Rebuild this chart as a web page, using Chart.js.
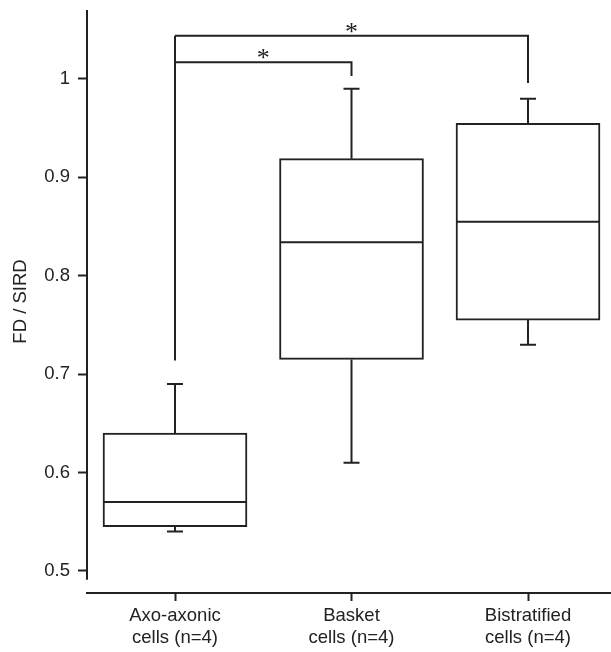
<!DOCTYPE html>
<html>
<head>
<meta charset="utf-8">
<style>
  html, body { margin: 0; padding: 0; background: #fff; }
  canvas { display: block; }
</style>
<script src="https://cdn.jsdelivr.net/npm/chart.js@4/dist/chart.umd.min.js"></script>
</head>
<body>
<canvas id="chart" width="611" height="652"></canvas>
<script>
// ============================================
// DATA
// ============================================

const categories = [['Axo-axonic', 'cells (n=4)'], ['Basket', 'cells (n=4)'], ['Bistratified', 'cells (n=4)']];
const whiskerLow = [0.54, 0.61, 0.73];
const boxQ1 = [0.545, 0.715, 0.755];
const boxMedian = [0.57, 0.834, 0.855];
const boxQ3 = [0.64, 0.919, 0.955];
const whiskerHigh = [0.69, 0.99, 0.98];
const yTicks = [0.5, 0.6, 0.7, 0.8, 0.9, 1.0];

// significance brackets: from group 1 to group bracketTo[i]
const bracketTo = [2, 3];
const bracketLevel = [1.017, 1.044];
const bracketDrop = [1.003, 0.996];
const bracketStartDrop = 0.714;

const INK = '#222';
const FONT = "'Liberation Sans', Arial, sans-serif";

// ============================================
// BOX PLOT EXTRAS (whiskers, medians, brackets)
// ============================================

const boxPlugin = {
    id: 'boxExtras',
    afterDatasetsDraw(chart) {
        const ctx = chart.ctx;
        const x = chart.scales.x;
        const y = chart.scales.y;
        const halfBox = 71;
        const halfCap = 8;

        ctx.save();
        ctx.strokeStyle = INK;
        ctx.lineWidth = 2;
        ctx.lineCap = 'butt';

        categories.forEach((c, i) => {
            const cx = x.getPixelForValue(i + 1);
            ctx.beginPath();
            // median
            ctx.moveTo(cx - halfBox, y.getPixelForValue(boxMedian[i]));
            ctx.lineTo(cx + halfBox, y.getPixelForValue(boxMedian[i]));
            // upper whisker
            ctx.moveTo(cx, y.getPixelForValue(boxQ3[i]));
            ctx.lineTo(cx, y.getPixelForValue(whiskerHigh[i]));
            ctx.moveTo(cx - halfCap, y.getPixelForValue(whiskerHigh[i]));
            ctx.lineTo(cx + halfCap, y.getPixelForValue(whiskerHigh[i]));
            // lower whisker
            ctx.moveTo(cx, y.getPixelForValue(boxQ1[i]));
            ctx.lineTo(cx, y.getPixelForValue(whiskerLow[i]));
            ctx.moveTo(cx - halfCap, y.getPixelForValue(whiskerLow[i]));
            ctx.lineTo(cx + halfCap, y.getPixelForValue(whiskerLow[i]));
            ctx.stroke();
        });

        // brackets
        const x0 = x.getPixelForValue(1);
        ctx.beginPath();
        ctx.moveTo(x0, y.getPixelForValue(Math.max(...bracketLevel)));
        ctx.lineTo(x0, y.getPixelForValue(bracketStartDrop));
        bracketTo.forEach((g, i) => {
            const x1 = x.getPixelForValue(g);
            const yl = y.getPixelForValue(bracketLevel[i]);
            ctx.moveTo(x0, yl);
            ctx.lineTo(x1, yl);
            ctx.lineTo(x1, y.getPixelForValue(bracketDrop[i]));
        });
        ctx.stroke();

        // stars
        ctx.fillStyle = INK;
        ctx.font = "26px 'Liberation Serif', serif";
        ctx.textAlign = 'center';
        ctx.textBaseline = 'alphabetic';
        bracketTo.forEach((g, i) => {
            const mx = (x0 + x.getPixelForValue(g)) / 2;
            ctx.fillText('*', mx, y.getPixelForValue(bracketLevel[i]) + 4);
        });

        // y axis line (stops short of the x axis)
        ctx.beginPath();
        ctx.moveTo(chart.chartArea.left, chart.chartArea.top);
        ctx.lineTo(chart.chartArea.left, y.getPixelForValue(0.491));
        ctx.stroke();
        ctx.restore();
    }
};

// ============================================
// CHART
// ============================================

const ctx = document.getElementById('chart').getContext('2d');

new Chart(ctx, {
    type: 'bar',
    data: {
        datasets: [{
            data: categories.map((c, i) => ({ x: i + 1, y: [boxQ1[i], boxQ3[i]] })),
            backgroundColor: '#fff',
            borderColor: INK,
            borderWidth: 2,
            borderSkipped: false,
            barThickness: 144
        }]
    },
    options: {
        responsive: false,
        animation: false,
        layout: { padding: { top: 10, right: 0, left: 0, bottom: 0 } },
        plugins: {
            legend: { display: false },
            tooltip: { enabled: false }
        },
        scales: {
            x: {
                type: 'linear',
                offset: false,
                min: 0.5014,
                max: 3.4702,
                afterBuildTicks(scale) {
                    scale.ticks = [1, 2, 3].map(v => ({ value: v }));
                },
                afterFit(scale) {
                    scale.height = 59;
                    scale.paddingLeft = 0;
                    scale.paddingRight = 0;
                },
                border: { display: true, color: INK, width: 2 },
                grid: {
                    offset: false,
                    drawOnChartArea: false,
                    drawTicks: true,
                    tickLength: 8,
                    tickWidth: 2,
                    tickColor: INK
                },
                ticks: {
                    color: INK,
                    padding: 4,
                    maxRotation: 0,
                    autoSkip: false,
                    font: { family: FONT, size: 18.5, lineHeight: 1.2 },
                    callback: (v) => categories[v - 1]
                }
            },
            y: {
                min: 0.4776,
                max: 1.0701,
                afterBuildTicks(scale) {
                    scale.ticks = yTicks.map(v => ({ value: v }));
                },
                afterFit(scale) {
                    scale.width = 87;
                    scale.paddingTop = 0;
                    scale.paddingBottom = 0;
                },
                border: { display: false },
                grid: {
                    drawOnChartArea: false,
                    drawTicks: true,
                    tickLength: 9,
                    tickWidth: 2,
                    tickColor: INK
                },
                ticks: {
                    color: INK,
                    padding: 8,
                    font: { family: FONT, size: 18.5 },
                    callback: (v) => (v === 1 ? '1' : v.toFixed(1))
                },
                title: {
                    display: true,
                    text: 'FD / SIRD',
                    color: INK,
                    padding: { top: 10, bottom: 0 },
                    font: { family: FONT, size: 18.5, lineHeight: 1.2 }
                }
            }
        }
    },
    plugins: [boxPlugin]
});
</script>
</body>
</html>
